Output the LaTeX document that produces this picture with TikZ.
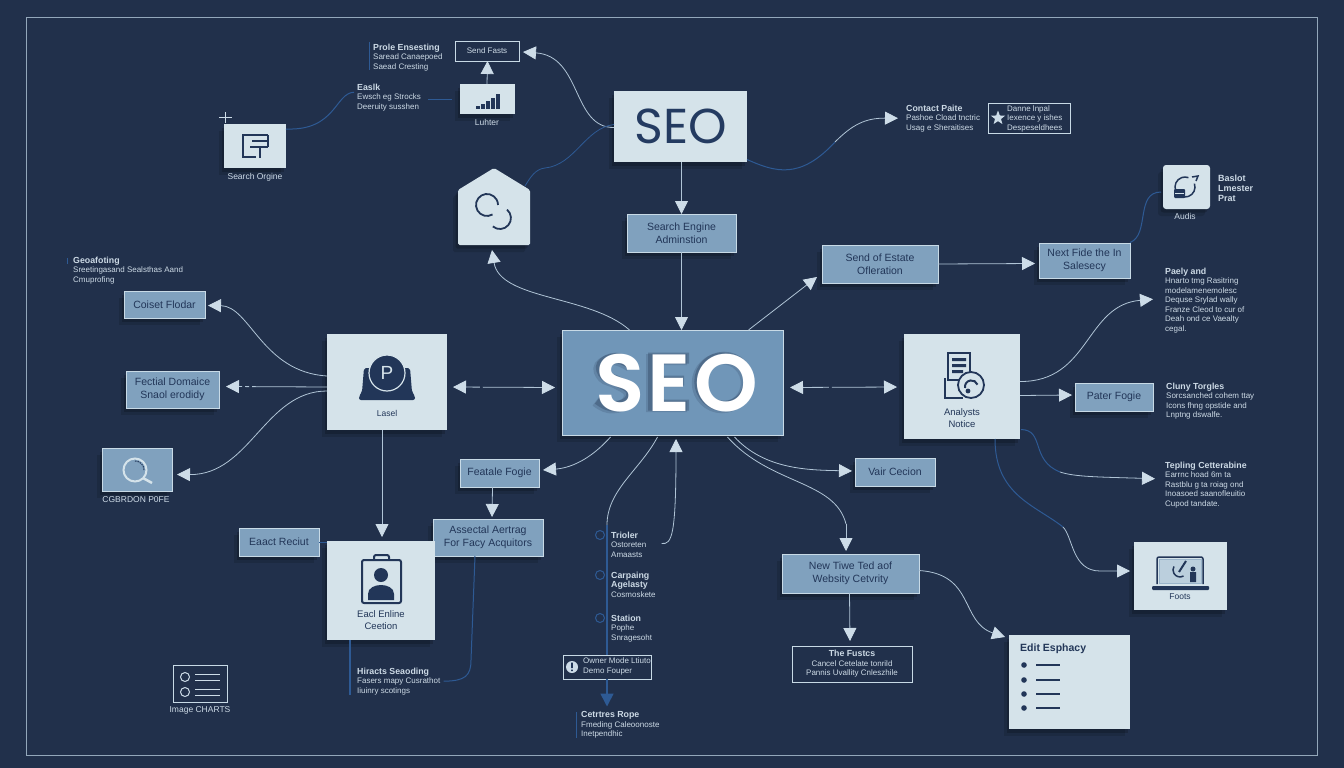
\documentclass[tikz,border=0pt]{standalone}
\usepackage{fontspec}
\setmainfont{Liberation Sans}
\newfontfamily\seofont{Poppins}[BoldFont=Poppins SemiBold]
\newfontfamily\seobig{Poppins SemiBold}[LetterSpace=4]
\usetikzlibrary{arrows.meta,calc,shadows,shapes.geometric}
\definecolor{Bg}{RGB}{33,48,75}
\definecolor{Lt}{RGB}{213,227,234}
\definecolor{Md}{RGB}{128,161,190}
\definecolor{Mc}{RGB}{112,150,184}
\definecolor{Bd}{RGB}{200,218,230}
\definecolor{Dk}{RGB}{34,54,88}
\definecolor{Blu}{RGB}{46,90,148}
\definecolor{Arr}{RGB}{205,220,232}
\definecolor{Lin}{RGB}{176,196,214}
\definecolor{Txt}{RGB}{205,218,230}
\newcommand{\Bx}[7]{%
  \pgfmathsetmacro\bw{#5-#3}\pgfmathsetmacro\bh{#6-#4}%
  \pgfmathsetmacro\cx{(#3+#5)/2}\pgfmathsetmacro\cy{(#4+#6)/2}%
  \node[#1,minimum width=\bw pt,minimum height=\bh pt,inner sep=0pt,outer sep=0pt] (#2) at (\cx,\cy) {#7};}
\tikzset{
  x=1pt,y=-1pt,
  shad/.style={drop shadow={shadow xshift=-5pt,shadow yshift=-7pt,opacity=.12,fill=black},
               drop shadow={shadow xshift=-2.5pt,shadow yshift=-3.5pt,opacity=.18,fill=black}},
  lightbox/.style={fill=Lt,shad,align=center,font=\color{Dk}\fontsize{9.5}{12}\selectfont},
  midbox/.style={fill=Md,draw=Bd,line width=.9pt,shad,align=center,font=\color{Dk}\fontsize{10.5}{13}\selectfont},
  outbox/.style={draw=Bd,line width=.9pt,fill=Bg,text=Txt,align=left,font=\fontsize{8}{9.5}\selectfont},
  lab/.style={anchor=north west,inner sep=0pt,yshift=-1.5pt,text=Txt,align=left,font=\fontsize{8}{9.5}\selectfont},
  capt/.style={inner sep=0pt,text=Txt,align=center,font=\fontsize{8.5}{11}\selectfont},
  conn/.style={draw=Lin,line width=.8pt},
  bconn/.style={draw=Blu,line width=1pt},
  arr/.style={conn,-{Triangle[length=13pt,width=13pt,color=Arr]}},
  barr/.style={conn,{Triangle[length=13pt,width=13pt,color=Arr]}-{Triangle[length=13pt,width=13pt,color=Arr]}},
  ic/.style={draw=Dk,line width=1.5pt,fill=none},
}
\newcommand{\hd}[1]{{\bfseries\fontsize{8.8}{10}\selectfont #1}}
\begin{document}
\begin{tikzpicture}
\useasboundingbox (0,0) rectangle (1344,768);
\fill[Bg] (0,0) rectangle (1344,768);
\draw[Lin!80!Bg,line width=.8pt] (26,17) rectangle (1317,755);

% boxes
\Bx{lightbox,font=\color{Dk!85!Blu}\seofont\fontsize{49}{50}\selectfont}{seoa}{614}{91}{747}{162}{SEO}
\Bx{lightbox}{srch}{224}{124}{286}{168}{}
\Bx{lightbox}{chart}{460}{84}{515}{114}{}
\path[fill=Lt,shad,rounded corners=1.5pt] (458,190) -- (494,168) -- (530,190) -- (530,245) -- (458,245) -- cycle;
\Bx{}{house}{458}{168}{530}{245}{}
\Bx{lightbox}{pbox}{327}{334}{447}{430}{}
\Bx{lightbox}{anbox}{904}{334}{1020}{439}{}
\Bx{lightbox,rounded corners=3pt}{audio}{1163}{165}{1210}{209}{}
\Bx{lightbox}{lapt}{1134}{542}{1227}{610}{}
\Bx{lightbox}{edit}{1009}{635}{1130}{729}{}

\Bx{midbox,fill=Mc,line width=1pt}{seoc}{562}{330}{783}{435}{}
% soft shadow of the big letters, drawn as shapes
\foreach \sx/\sy/\so/\sw in {-5/4/.16/11.5,-3/2.5/.28/10.5}{
\begin{scope}[shift={(\sx,\sy)},opacity=\so,draw=Dk!80!black,fill=Dk!80!black]
  \begin{scope}[shift={(4,0)}]
  \draw[line width=\sw pt,line cap=butt] plot[smooth,tension=.7] coordinates {(631,362) (615,355.5) (601,362) (604,373) (617,379) (630,388) (626,400) (610,403.5) (597,397)};
  \fill (647,350) -- (688,350) -- (688,361) -- (658,361) -- (658,373) -- (683,373) -- (683,383) -- (658,383) -- (658,397) -- (688,397) -- (688,408) -- (647,408) -- cycle;
  \end{scope}
  \draw[line width=\sw pt] (727,379) circle (24.5);
\end{scope}}
\node[inner sep=0pt,text=white,font=\seobig\fontsize{81}{82}\selectfont] (seotxt) at (676.5,383) {SEO};

\Bx{midbox}{adm}{627}{214}{736}{252}{Search Engine\\Adminstion}
\Bx{midbox}{send}{822}{245}{938}{283}{Send of Estate\\Ofleration}
\Bx{midbox}{next}{1039}{243}{1130}{278}{Next Fide the In\\Salesecy}
\Bx{midbox}{coset}{124}{291}{205}{318}{Coiset Flodar}
\Bx{midbox}{fact}{126}{371}{219}{408}{Fectial Domaice\\Snaol erodidy}
\Bx{midbox}{mag}{102}{448}{172}{491}{}
\Bx{midbox}{feat}{460}{459}{539}{487}{Featale Fogie}
\Bx{midbox}{assoc}{433}{519}{543}{556}{Assectal Aertrag\\For Facy Acquitors}
\Bx{midbox}{exact}{239}{528}{319}{556}{Eaact Reciut}
\Bx{midbox}{pater}{1075}{383}{1153}{411}{Pater Fogie}
\Bx{midbox}{vair}{855}{458}{935}{486}{Vair Cecion}
\Bx{midbox}{newb}{782}{554}{919}{593}{New Tiwe Ted aof\\Websity Cetvrity}
\Bx{lightbox}{pers}{327}{541}{435}{640}{}

\Bx{outbox,align=center}{tasks}{455}{41}{519}{61}{Send Fasts}
\Bx{outbox}{star}{988}{103}{1070}{133}{}
\Bx{outbox}{owner}{563}{655}{651}{679}{}
\Bx{outbox,align=center}{fusse}{792}{646}{912}{682}{\hd{The Fustcs}\\Cancel Cetelate tonrild\\Pannis Uvallity Cnleszhile}
\Bx{outbox}{imgi}{173}{665}{227}{702}{}

% labels
\node[lab] (l1) at (373,42) {\hd{Prole Ensesting}\\Saread Canaepoed\\Saead Cresting};
\node[lab] (l2) at (357,82) {\hd{Easlk}\\Ewsch eg Strocks\\Deeruity susshen};
\node[capt] (l3) at (487,122) {Luhter};
\node[capt] (l4) at (255,177) {Search Orgine};
\node[lab] (l5) at (906,103) {\hd{Contact Paite}\\Pashoe Cload tnctric\\Usag e Sheraitises};
\node[lab] (l6) at (1007,104) {Danne lnpal\\Iexence y ishes\\Despeseldhees};
\node[lab,font=\fontsize{9}{10}\selectfont\bfseries] (l7) at (1218,173) {Baslot\\Lmester\\Prat};
\node[capt] (l8) at (1185,216) {Audis};
\node[lab] (l9) at (1165,266) {\hd{Paely and}\\Hnarto tmg Rasitring\\modelamenemolesc\\Dequse Srylad wally\\Franze Cleod to cur of\\Deah ond ce Vaealty\\cegal.};
\node[lab] (l10) at (1166,381) {\hd{Cluny Torgles}\\Sorcsanched cohem ttay\\Icons fhng opstide and\\Lnptng dswalfe.};
\node[lab] (l11) at (1165,460) {\hd{Tepling Cetterabine}\\Earrnc hoad 6m ta\\Rastblu g ta roiag ond\\Inoasoed saanofleuitio\\Cupod tandate.};
\node[lab] (l12) at (73,255) {\hd{Geoafoting}\\Sreetingasand Sealsthas Aand\\Cmuprofing};
\node[capt] (l13) at (136,500) {CGBRDON P0FE};
\node[lab] (l14) at (357,666) {\hd{Hiracts Seaoding}\\Fasers mapy Cusrathot\\Iiuinry scotings};
\node[capt] (l15) at (200,710) {Image CHARTS};
\node[lab] (l16) at (611,530) {\hd{Trioler}\\Ostoreten\\Amaasts};
\node[lab] (l17) at (611,570) {\hd{Carpaing}\\\hd{Agelasty}\\Cosmoskete};
\node[lab] (l18) at (611,613) {\hd{Station}\\Pophe\\Snragesoht};
\node[lab] (l19) at (583,656) {Owner Mode Ltiuto\\Demo Fouper};
\node[lab] (l20) at (581,710) {\hd{Cetrtres Rope}\\Fmeding Caleoonoste\\Inetpendhic};
\node[capt,text=Dk] (l21) at (387,413) {Lasel};
\node[capt,text=Dk,font=\fontsize{9.5}{11.5}\selectfont] (l22) at (962,418) {Analysts\\Notice};
\node[capt,text=Dk] (l23) at (1180,597) {Foots};
\node[capt,text=Dk,font=\fontsize{9.5}{12}\selectfont] (l24) at (381,620) {Eacl Enline\\Ceetion};
\node[anchor=north west,inner sep=0pt,text=Dk,font=\bfseries\fontsize{10.5}{12}\selectfont] (l25) at (1020,644) {Edit Esphacy};

% thin bars beside labels
\draw[Blu,line width=.6pt] (369,42) -- (369,70);
\draw[Blu,line width=.6pt] (576,712) -- (576,738);
\draw[Blu,line width=.6pt] (67,258) -- (67,264);

% connectors
\draw[bconn] (srch.east) ++(0,-17) coordinate (sa) .. controls +(50,2) and (335,93) .. ($(l2.west)+(-3,-5)$);
\draw[bconn] ($(l2.east)+(7,2)$) -- ($(l2.east -| chart.west)+(-8,2)$);
\draw[arr] (chart.north) ++(-0.5,0) -- (tasks.south -| chart.north);
\draw[arr] ($(seoa.west)+(0,1)$) .. controls (572,128) and (582,56) .. ($(tasks.east)+(4,1)$);
\draw[bconn,line width=.8pt] ($(seoa.west)+(0,-2)$) .. controls (585,128) and (575,165) .. (545,168) .. controls (535,169) and (530,178) .. (525,186);
\coordinate (ct1) at (835,142);
\draw[bconn] ($(seoa.east)+(0,33)$) .. controls (775,172) and (800,180) .. (ct1);
\draw[arr] (ct1) .. controls (852,125) and (865,118) .. ($(l5.west)+(-8,0)$);
\draw[arr] (seoa.south -| adm.north) -- (adm.north);
\draw[arr] (adm.south) -- (seoc.north -| adm.south);
\draw[arr] ($(seoc.north)+(-43,0)$) .. controls (590,295) and (500,300) .. ($(house.south)+(-2,5)$);
\draw[arr] ($(seoc.north)+(76,0)$) -- ($(send.south west)+(-5,-6)$);
\draw[arr] (send.east) -- ($(next.west)+(-4,3)$);
\draw[bconn] ($(next.east)+(0,-18)$) .. controls (1150,235) and (1135,192) .. ($(audio.west)+(-2,5)$);
\draw[barr,dash pattern=on 14pt off 3pt on 60pt off 3pt] ($(pbox.east)+(6,5)$) -- ($(seoc.west)+(-7,5)$);
\draw[barr,dash pattern=on 26pt off 3pt on 60pt off 3pt] ($(seoc.east)+(7,5)$) -- ($(anbox.west)+(-7,0.5)$);
\draw[arr] ($(pbox.west)+(0,-6)$) .. controls (262,372) and (250,306) .. ($(coset.east)+(3,1)$);
\draw[arr,dash pattern=on 75pt off 3pt on 4pt off 3pt on 40pt] ($(pbox.west)+(0,5)$) -- ($(fact.east)+(7,-3)$);
\draw[arr] ($(pbox.west)+(0,9)$) .. controls (265,391) and (250,475) .. ($(mag.east)+(5,5)$);
\draw[arr] (pbox.south -| pers.north) ++(1,0) -- ($(pers.north)+(1,-4)$);
\draw[arr] ($(seoc.south)+(-62,2)$) .. controls (590,460) and (570,468) .. ($(feat.east)+(4,-3)$);
\draw[arr] ($(seoc.south)+(62,2)$) .. controls (765,470) and (810,470) .. ($(vair.west)+(-3,-1)$);
\coordinate (ct2) at (846,524);
\draw[conn] ($(seoc.south)+(55,2)$) .. controls (770,485) and (835,480) .. (ct2);
\draw[arr] (ct2) -- ($(newb.north)+(-4.5,-3)$);
\draw[arr] ($(newb.south)+(-1,0)$) -- ($(fusse.north)+(-2,-5)$);
\draw[arr] ($(newb.east)+(0,-3)$) .. controls (975,574) and (960,622) .. ($(edit.north west)+(-4,2)$);
\draw[arr] ($(anbox.east)+(0,-5)$) .. controls (1090,382) and (1085,305) .. ($(l9.west)+(-12,-1)$);
\draw[arr] ($(anbox.east)+(0,9)$) -- ($(pater.west)+(-3,-2)$);
\coordinate (ct3) at (1060,472);
\draw[bconn] ($(anbox.east)+(1,43)$) .. controls (1045,430) and (1030,460) .. (ct3);
\draw[arr] (ct3) .. controls (1075,477) and (1100,477) .. ($(l11.west)+(-10,-6)$);
\coordinate (ct4) at (1063,527);
\draw[bconn] ($(anbox.south)+(33,0)$) .. controls (995,495) and (1035,505) .. (ct4);
\draw[arr] (ct4) .. controls (1073,537) and (1072,571) .. (1100,571) -- ($(lapt.west)+(-4,-5)$);
\draw[arr] ($(l16.east)+(15,-1)$) .. controls (672,545) and (676,535) .. ($(seoc.south)+(3.5,4)$);
\coordinate (bv) at (607,525);
\draw[conn] ($(seoc.south)+(-15,2)$) .. controls (640,470) and (607,490) .. (bv);
\draw[bconn,line width=1.6pt] (bv) -- (owner.north -| bv);
\draw[bconn,line width=1.6pt,-{Triangle[length=13pt,width=13pt,color=Blu]}] (owner.south -| bv) -- ($(l20.north -| bv)+(0,-5)$);
\draw[bconn] ($(assoc.south)+(-13,0)$) -- (471,660) .. controls (471,676) and (465,681) .. ($(l14.east)+(3,0)$);
\draw[bconn,line width=1.4pt] ($(pers.south)+(-31,0)$) -- +(0,55);
\draw[bconn] (exact.east) -- (pers.north west |- exact.east);
\draw[arr] ($(feat.south)+(-7,0)$) -- ($(assoc.north)+(4,-2)$);
\draw[Arr,line width=.9pt] (219,117) -- (232,117) (225,112) -- (225,123);

% circles on blue rail
\foreach \n/\yy in {ca/535,cb/575,cc/618}{
  \node[circle,draw=Blu,fill=Bg,line width=1pt,minimum size=9pt,inner sep=0pt] (\n) at (600,\yy) {};
}

% icons
\draw[ic] (268,135) -- (243,135) -- (243,157) -- (256,157) (268,141) -- (252,141) (250,147) -- (268,147) (260,147) -- (260,158) (268,135) -- (268,147);
\foreach \i/\h in {0/3,1/5,2/8,3/11,4/15}{\fill[Dk] (476+\i*5,109-\h) rectangle +(3.5,\h);}
\draw[ic,line width=1.8pt] (492.5,214.5) arc (60:360:11);
\draw[ic,line width=1.8pt] (507,209.6) arc (-50:130:11);
\fill[Dk,rounded corners=2pt] (364,368) -- (410,368) -- (412,392) -- (415,396) -- (415,400) -- (359,400) -- (359,396) -- (362,392) -- cycle;
\draw[draw=Lt,line width=1.2pt,fill=Dk] (387,373) circle (18);
\node[text=Lt,inner sep=0pt,font=\fontsize{19}{19}\selectfont] (pi) at (387,373) {P};
% analysis icon
\draw[ic,fill=Lt,line width=1.6pt] (948,353) rectangle (970,380);
\fill[Dk] (952,358) rectangle (966,361) (952,364) rectangle (966,367) (952,370) rectangle (963,373);
\draw[ic,line width=1.6pt] (945,378) -- (945,398) -- (963,398);
\draw[ic,fill=Lt,line width=1.8pt] (971,385) circle (13);
\draw[ic,line width=2pt] (965,388) arc (170:340:6.5);
\fill[Dk] (968,391) circle (2.4);
% person icon
\draw[ic,line width=2pt,rounded corners=2pt] (362,560) rectangle (401,603);
\draw[ic,line width=2pt,rounded corners=2pt] (374,560) -- (374,555) -- (389,555) -- (389,560);
\fill[Dk] (381,575) circle (7);
\fill[Dk] (368,600) -- (368,594) .. controls (368,582) and (394,582) .. (394,594) -- (394,600) -- cycle;
% audio icon
\draw[ic] (1194.4,183.6) arc (-20:290:10);
\draw[ic] (1192,177) -- (1198,176) -- (1196,181);
\fill[Dk,rounded corners=1pt] (1174,189) rectangle (1185,198);
\draw[Lt,line width=.8pt] (1175,193) -- (1184,193);
% laptop icon
\draw[ic,line width=1.5pt,rounded corners=2pt] (1157,584) -- (1157,557) -- (1203,557) -- (1203,584);
\draw[Md!70!Lt,line width=.5pt,fill=Md!30!Lt] (1159,559) rectangle (1201,583);
\fill[Dk,rounded corners=1pt] (1152,586) rectangle (1209,590);
\draw[ic] (1183.5,576) arc (60:210:7);
\draw[ic,line width=2pt] (1186,561) -- (1179,572);
\fill[Dk] (1190,572) -- (1196,572) -- (1196,582) -- (1190,582) -- cycle (1193,569) circle (2.5);
% magnifier
\draw[Lt,line width=2pt,fill=Md] (135,470) circle (11.5);
\draw[Lt,line width=2.5pt] (143,478) -- (152,483);
\draw[Dk,line width=1pt,dash pattern=on 1.5pt off 1pt] (135,461) arc (-90:0:9);
% others
\draw[Arr,line width=1pt] (185,677) circle (4.5) (185,692) circle (4.5);
\foreach \yy in {674,680,689,695}{\draw[Arr,line width=1pt] (195,\yy) -- (220,\yy);}
\node[star,star points=5,star point ratio=2.4,fill=Arr,inner sep=0pt,minimum size=15pt] (stari) at (998,118) {};
\fill[Arr] (572,667) circle (6);
\fill[Dk] (571.2,662.5) rectangle (572.8,668) (571.2,669.5) rectangle (572.8,671);
\foreach \yy in {665,680,694,708}{
  \fill[Dk] (1024,\yy) circle (2.8);
  \draw[Dk,line width=1.1pt] (1036,\yy) -- (1060,\yy);
}
\end{tikzpicture}
\end{document}
